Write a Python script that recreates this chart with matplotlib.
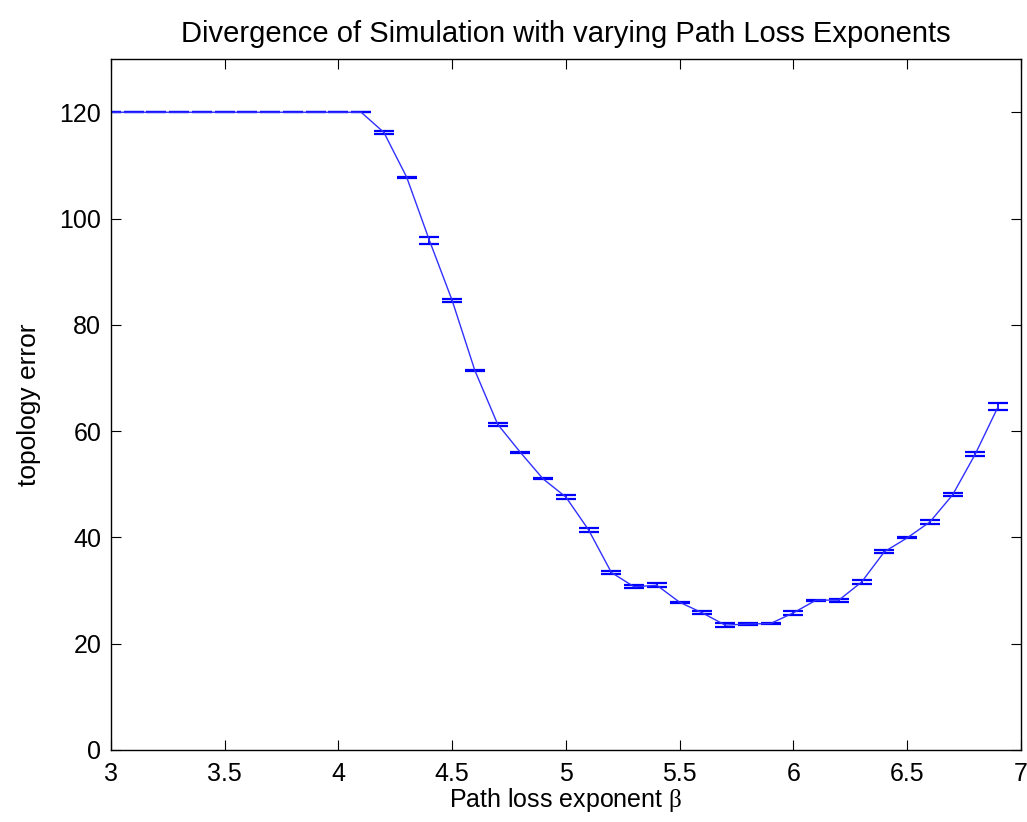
import matplotlib.pyplot as plt

# path loss exponent values and mean topology error
beta = [3.0, 3.1, 3.2, 3.3, 3.4, 3.5, 3.6, 3.7, 3.8, 3.9, 4.0, 4.1,
        4.2, 4.3, 4.4, 4.5, 4.6, 4.7, 4.8, 4.9, 5.0, 5.1, 5.2, 5.3,
        5.4, 5.5, 5.6, 5.7, 5.8, 5.9, 6.0, 6.1, 6.2, 6.3, 6.4, 6.5,
        6.6, 6.7, 6.8, 6.9]
topo_err = [120, 120, 120, 120, 120, 120, 120, 120, 120, 120, 120, 120,
            116.2, 107.8, 95.9, 84.6, 71.4, 61.3, 56.0, 51.0, 47.6, 41.4, 33.4, 30.7,
            31.0, 27.8, 25.8, 23.5, 23.7, 23.8, 25.8, 28.2, 28.2, 31.6, 37.3, 39.9,
            42.9, 48.0, 55.7, 64.6]
err = [0, 0, 0, 0, 0, 0, 0, 0, 0, 0, 0, 0,
       0.35, 0.1, 0.6, 0.25, 0.1, 0.3, 0.1, 0.1, 0.3, 0.3, 0.3, 0.3,
       0.4, 0.1, 0.3, 0.4, 0.2, 0.1, 0.4, 0.1, 0.3, 0.4, 0.3, 0.1,
       0.3, 0.3, 0.3, 0.6]

plt.rcParams['font.family'] = ['Liberation Sans', 'DejaVu Sans']
plt.rcParams['mathtext.fontset'] = 'custom'
plt.rcParams['mathtext.rm'] = 'Liberation Serif'

fig = plt.figure(figsize=(10.27, 8.22), dpi=100)
ax = fig.add_axes([0.108, 0.0876, 0.886, 0.8405])

ax.errorbar(beta, topo_err, yerr=err, color='#3030ff', ecolor='b', linewidth=1.0,
            elinewidth=1.3, capsize=7, capthick=1.6)

ax.set_xlim(3, 7)
ax.set_ylim(0, 130)
ax.set_xticks([3, 3.5, 4, 4.5, 5, 5.5, 6, 6.5, 7])
ax.set_xticklabels(['3', '3.5', '4', '4.5', '5', '5.5', '6', '6.5', '7'])
ax.set_yticks([0, 20, 40, 60, 80, 100, 120])
ax.tick_params(direction='in', top=True, right=True, labelsize=18, length=7, pad=7)
ax.tick_params(axis='x', pad=9)
for s in ax.spines.values():
    s.set_linewidth(1.0)

ax.set_title('Divergence of Simulation with varying Path Loss Exponents', fontsize=21, pad=12)
ax.set_xlabel(r'Path loss exponent $\mathrm{\beta}$', fontsize=18, labelpad=0)
ax.set_ylabel('topology error', fontsize=19, labelpad=13)

fig.savefig('out.png', dpi=100)
